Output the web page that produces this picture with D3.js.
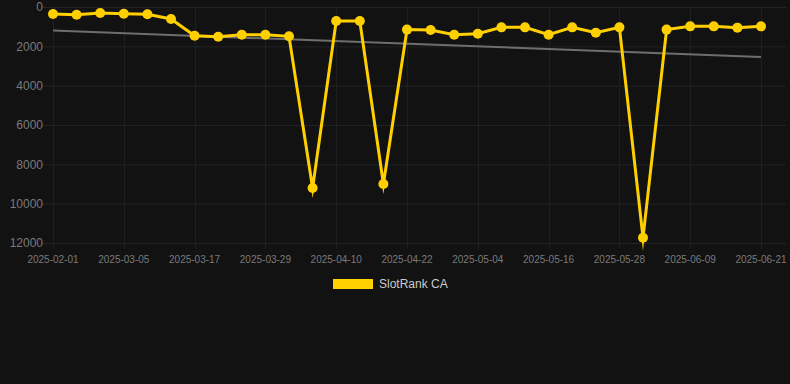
<!DOCTYPE html>
<html>
<head>
<meta charset="utf-8">
<script src="https://cdn.jsdelivr.net/npm/d3@7"></script>
<style>
  html,body{margin:0;padding:0;background:#121212;}
  svg{display:block;}
  text{font-family:"Liberation Sans",Arial,sans-serif;}
</style>
</head>
<body>
<svg width="790" height="384"></svg>
<script>
// categories (dates), every 3rd one gets a label
var dates=["2025-02-01","2025-02-25","2025-03-01","2025-03-05","2025-03-09","2025-03-13",
  "2025-03-17","2025-03-21","2025-03-25","2025-03-29","2025-04-02","2025-04-06",
  "2025-04-10","2025-04-14","2025-04-18","2025-04-22","2025-04-26","2025-04-30",
  "2025-05-04","2025-05-08","2025-05-12","2025-05-16","2025-05-20","2025-05-24",
  "2025-05-28","2025-06-01","2025-06-05","2025-06-09","2025-06-13","2025-06-17","2025-06-21"];
var rankCA=[355,390,305,340,370,610,1460,1510,1410,1410,1490,9200,710,710,9000,1150,1170,1410,
  1360,1035,1035,1410,1035,1305,1035,11730,1150,985,985,1050,985];
var trendEnds=[1200,2540];
var yTicks=[0,2000,4000,6000,8000,10000,12000];
var seriesName="SlotRank CA";

var drawChart=function(){
  var svg=d3.select('svg');
  var margin={top:7,left:53,right:29};
  var plotRight=790-margin.right;
  var gold="#ffd000";

  var x=d3.scalePoint().domain(dates).range([margin.left,plotRight]);
  var y=d3.scaleLinear().domain([0,12000]).range([margin.top,243]);

  // grid
  var grid=svg.append('g').attr('id','grid');
  grid.selectAll('line.h').data(yTicks).enter().append('line')
    .attr('class','h')
    .attr('x1',43).attr('x2',786)
    .attr('y1',function(d){return y(d)+0.5;}).attr('y2',function(d){return y(d)+0.5;})
    .attr('stroke','#232323').attr('stroke-width',1);
  var labelled=dates.filter(function(d,i){return i%3===0;});
  grid.selectAll('line.v').data(labelled).enter().append('line')
    .attr('class','v')
    .attr('x1',function(d){return Math.round(x(d))+0.5;})
    .attr('x2',function(d){return Math.round(x(d))+0.5;})
    .attr('y1',margin.top).attr('y2',249)
    .attr('stroke','#1f1f1f').attr('stroke-width',1);

  // y axis labels
  svg.append('g').selectAll('text').data(yTicks).enter().append('text')
    .attr('x',43).attr('y',function(d){return y(d);})
    .attr('dy','0.35em').attr('text-anchor','end')
    .attr('font-size',12).attr('fill','#7a7a7a')
    .text(function(d){return d;});

  // x axis labels
  svg.append('g').selectAll('text').data(labelled).enter().append('text')
    .attr('x',function(d){return x(d);}).attr('y',259)
    .attr('dy','0.35em').attr('text-anchor','middle')
    .attr('font-size',10).attr('fill','#7a7a7a')
    .text(function(d){return d;});

  // trend line
  svg.append('line')
    .attr('x1',x(dates[0])).attr('y1',y(trendEnds[0]))
    .attr('x2',x(dates[dates.length-1])).attr('y2',y(trendEnds[1]))
    .attr('stroke','#6e6e6e').attr('stroke-width',2);

  // series line
  var pts=dates.map(function(d,i){return [x(d),y(rankCA[i])];});
  svg.append('path')
    .attr('d',d3.line()(pts))
    .attr('fill','none').attr('stroke',gold).attr('stroke-width',3)
    .attr('stroke-linejoin','miter').attr('stroke-miterlimit',10);

  svg.append('g').selectAll('circle').data(pts).enter().append('circle')
    .attr('cx',function(d){return d[0];}).attr('cy',function(d){return d[1];})
    .attr('r',5).attr('fill',gold);

  // legend
  var lg=svg.append('g').attr('transform','translate(333,279)');
  lg.append('rect').attr('width',40).attr('height',10).attr('fill',gold);
  lg.append('text').attr('x',46).attr('y',5).attr('dy','0.35em')
    .attr('font-size',12).attr('fill','#cccccc').text(seriesName);
};
drawChart();
</script>
</body>
</html>
